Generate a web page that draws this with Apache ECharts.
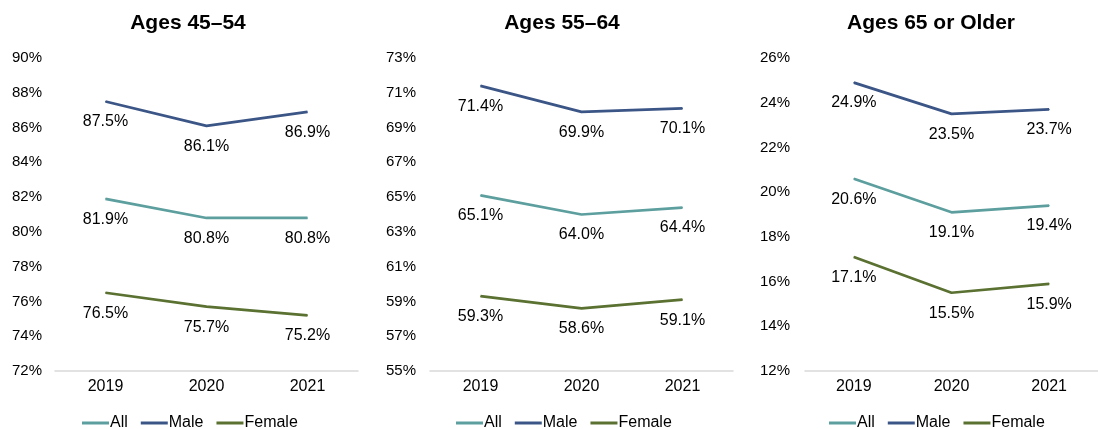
<!DOCTYPE html>
<html>
<head>
<meta charset="utf-8">
<script src="https://cdn.jsdelivr.net/npm/echarts@6/dist/echarts.min.js"></script>
<style>
  html, body { margin: 0; padding: 0; background: #fff; }
  #chart { width: 1098px; height: 429px; }
</style>
</head>
<body>
<div id="chart"></div>
<script>
// Labor force participation by age group and sex, 2019–2021 (percent)
const years = ['2019', '2020', '2021'];
const seriesNames = ['All', 'Male', 'Female'];
const panelTitles = ['Ages 45\u201354', 'Ages 55\u201364', 'Ages 65 or Older'];

const all4554 = [81.9, 80.8, 80.8];
const male4554 = [87.5, 86.1, 86.9];
const female4554 = [76.5, 75.7, 75.2];

const all5564 = [65.1, 64.0, 64.4];
const male5564 = [71.4, 69.9, 70.1];
const female5564 = [59.3, 58.6, 59.1];

const all65 = [20.6, 19.1, 19.4];
const male65 = [24.9, 23.5, 23.7];
const female65 = [17.1, 15.5, 15.9];

const yTicks4554 = [72, 74, 76, 78, 80, 82, 84, 86, 88, 90];
const yTicks5564 = [55, 57, 59, 61, 63, 65, 67, 69, 71, 73];
const yTicks65 = [12, 14, 16, 18, 20, 22, 24, 26];

const colors = { All: '#5c9f9e', Male: '#3b5686', Female: '#5a7131' };
const font = 'Liberation Sans, Arial, sans-serif';

const panels = [
  { title: panelTitles[0], ticks: yTicks4554, data: [all4554, male4554, female4554], left: 55, width: 303, titleX: 183, legendX: 190, margin: 13 },
  { title: panelTitles[1], ticks: yTicks5564, data: [all5564, male5564, female5564], left: 430, width: 303, titleX: 557, legendX: 564, margin: 14 },
  { title: panelTitles[2], ticks: yTicks65, data: [all65, male65, female65], left: 805, width: 303, titleX: 926, legendX: 937, margin: 15 }
];

const option = {
  animation: false,
  textStyle: { fontFamily: font },
  title: [], grid: [], xAxis: [], yAxis: [], legend: [], series: []
};

panels.forEach((p, i) => {
  option.title.push({
    text: p.title, left: p.titleX, top: 8, textAlign: 'center',
    textStyle: { fontFamily: font, fontSize: 21, fontWeight: 'bold', color: '#000' }
  });
  option.grid.push({ left: p.left, width: p.width, top: 58, height: 313 });
  option.xAxis.push({
    type: 'category', gridIndex: i, data: years, boundaryGap: true,
    axisLine: { lineStyle: { color: '#d9d9d9', width: 1.5 } },
    axisTick: { show: false },
    axisLabel: { color: '#000', fontSize: 16, margin: 8, fontFamily: font }
  });
  option.yAxis.push({
    type: 'value', gridIndex: i,
    min: p.ticks[0], max: p.ticks[p.ticks.length - 1],
    axisLine: { show: false }, axisTick: { show: false }, splitLine: { show: false },
    axisLabel: {
      color: '#000', fontSize: 15, fontFamily: font, margin: p.margin,
      customValues: p.ticks,
      formatter: v => v + '%'
    }
  });
  option.legend.push({
    data: seriesNames, left: p.legendX - 110, top: 410,
    orient: 'horizontal',
    icon: 'rect', itemWidth: 27, itemHeight: 3, itemGap: 13,
    textStyle: { fontSize: 16, color: '#000', fontFamily: font, padding: [0, 0, 0, -4] },
    selectedMode: false
  });
  seriesNames.forEach((name, k) => {
    option.series.push({
      name, type: 'line', xAxisIndex: i, yAxisIndex: i,
      data: p.data[k],
      symbol: 'circle', symbolSize: 1, showSymbol: true,
      lineStyle: { color: colors[name], width: 2.75 },
      itemStyle: { color: colors[name] },
      label: {
        show: true, position: 'bottom', distance: 12,
        fontSize: 16, color: '#000', fontFamily: font,
        formatter: d => d.value.toFixed(1) + '%'
      },
      labelLayout: { hideOverlap: false }
    });
  });
});

const chart = echarts.init(document.getElementById('chart'));
chart.setOption(option);

// Center every legend under its panel using the rendered legend width.
const legendViews = (chart._componentsViews || []).filter(v => v.type === 'legend.plain');
if (legendViews.length) {
  const w = legendViews[0].group.getBoundingRect().width;
  option.legend.forEach((lg, i) => { lg.left = Math.round(panels[i].legendX - w / 2); });
  chart.setOption({ legend: option.legend });
}
</script>
</body>
</html>
